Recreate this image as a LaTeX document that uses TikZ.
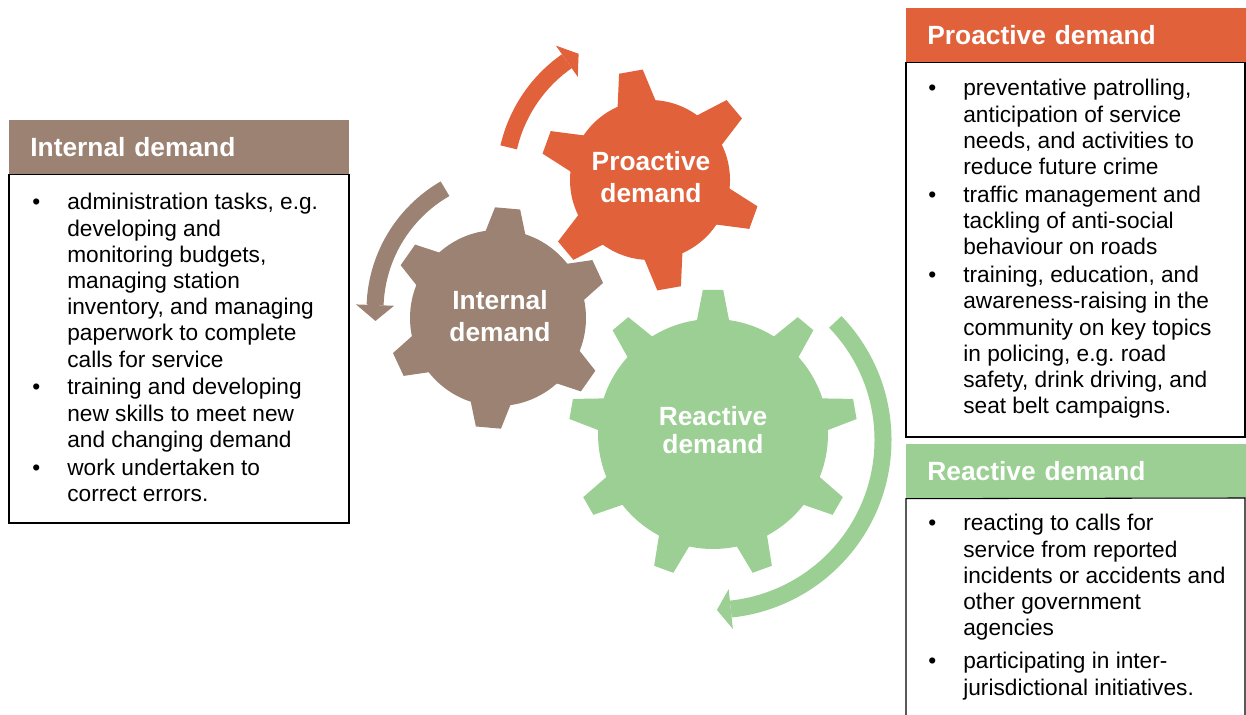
\documentclass[tikz,border=0pt]{standalone}
\usepackage{fontspec}
\setmainfont{Liberation Sans}
\usetikzlibrary{positioning}
\definecolor{proorange}{RGB}{224,97,58}
\definecolor{intbrown}{RGB}{155,130,114}
\definecolor{reagreen}{RGB}{155,207,147}
\begin{document}
\begin{tikzpicture}[x=0.02cm,y=0.02cm,
    gearlabel/.style={text=white, font=\fontsize{15}{18}\selectfont\bfseries, align=center, inner sep=0pt},
    boxhead/.style={fill=#1, text=white, font=\fontsize{15}{18}\selectfont\bfseries, anchor=north west,
      minimum width=6.8cm, minimum height=1.08cm, text width=5.96cm, inner xsep=0.42cm, inner ysep=0pt, align=left},
    boxbody/.style={draw=black, line width=0.6pt},
    listtext/.style={font=\fontsize{12.9}{14.9}\selectfont, inner sep=0pt, anchor=base west},
    cyclearrow/.style={draw=#1, line width=0.34cm}]
  \useasboundingbox (0,0) rectangle (1246,715);

  % gears: centre, body radius, tip radius, tooth half width, first tooth, teeth
  \foreach \cx/\cy/\rin/\rout/\tw/\first/\n/\col in
      {650/535/80/110/20/100/6/proorange, 498/397/88/110/21/85/6/intbrown, 713/281/115/144/17/90/9/reagreen}{
    \fill[\col] (\cx,\cy) circle (\rin);
    \pgfmathsetmacro\toothang{360/\n}
    \foreach \k in {1,...,\n}
      \fill[\col, shift={(\cx,\cy)}, rotate={\first+\k*\toothang}]
        (\rin-6,-\tw) -- (\rout,-0.6*\tw) -- (\rout,0.6*\tw) -- (\rin-6,\tw) -- cycle;
  }
  \node[gearlabel] (progear) at (651,538) {Proactive\\demand};
  \node[gearlabel] (intgear) at (500,399) {Internal\\demand};
  \node[gearlabel, font=\fontsize{15}{15.5}\selectfont\bfseries] (reagear) at (713,285) {Reactive\\demand};

  % turning arrows
  \begin{scope}[shift={(650,535)}]
    \draw[cyclearrow=proorange] (167:145) arc[start angle=167, end angle=125, radius=145];
    \fill[proorange] (125:126) -- (119.5:145) -- (125:164) -- cycle;
  \end{scope}
  \begin{scope}[shift={(515,405)}]
    \draw[cyclearrow=intbrown] (120:140) arc[start angle=120, end angle=178, radius=140];
    \fill[intbrown] (178:121) -- (184.5:140) -- (178:159) -- cycle;
  \end{scope}
  \begin{scope}[shift={(713,275)}]
    \draw[cyclearrow=reagreen] (44:170) arc[start angle=44, end angle=-84, radius=170];
    \fill[reagreen] (-84:150) -- (-88.7:170) -- (-84:190) -- cycle;
  \end{scope}

  % internal demand box
  \node[boxhead=intbrown] (inthead) at (9,595) {Internal demand};
  \draw[boxbody] (inthead.south west) rectangle (349,192);
  \node[listtext] (intlist) at (32,505) {%
    \begin{tabular}[t]{@{}p{0.7cm}@{}l@{}}
      \textbullet & administration tasks, e.g.\\
                  & developing and\\
                  & monitoring budgets,\\
                  & managing station\\
                  & inventory, and managing\\
                  & paperwork to complete\\
                  & calls for service\\[1pt]
      \textbullet & training and developing\\
                  & new skills to meet new\\
                  & and changing demand\\[1pt]
      \textbullet & work undertaken to\\
                  & correct errors.
    \end{tabular}};

  % proactive demand box
  \node[boxhead=proorange] (prohead) at (906,707) {Proactive demand};
  \draw[boxbody] (prohead.south west) rectangle (1245,278);
  \node[listtext] (prolist) at (928,619) {%
    \begin{tabular}[t]{@{}p{0.7cm}@{}l@{}}
      \textbullet & preventative patrolling,\\
                  & anticipation of service\\
                  & needs, and activities to\\
                  & reduce future crime\\[1pt]
      \textbullet & traffic management and\\
                  & tackling of anti-social\\
                  & behaviour on roads\\[1pt]
      \textbullet & training, education, and\\
                  & awareness-raising in the\\
                  & community on key topics\\
                  & in policing, e.g.\ road\\
                  & safety, drink driving, and\\
                  & seat belt campaigns.
    \end{tabular}};

  % reactive demand box, open at the bottom
  \node[boxhead=reagreen] (reahead) at (906,271) {Reactive demand};
  \draw[boxbody] (906,0) -- (reahead.south west) -- (1245,217) -- (1245,0);
  \node[listtext] (realist) at (928,184) {%
    \begin{tabular}[t]{@{}p{0.7cm}@{}l@{}}
      \textbullet & reacting to calls for\\
                  & service from reported\\
                  & incidents or accidents and\\
                  & other government\\
                  & agencies\\[4pt]
      \textbullet & participating in inter-\\
                  & jurisdictional initiatives.
    \end{tabular}};
\end{tikzpicture}
\end{document}
